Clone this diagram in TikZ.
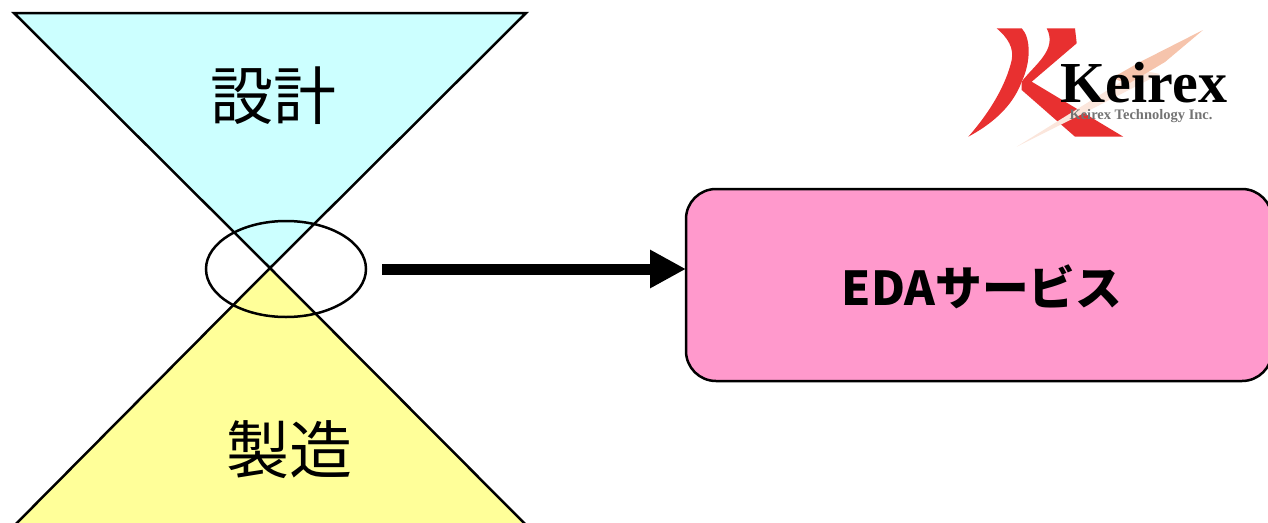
\documentclass[tikz,border=0pt]{standalone}
\usepackage{fontspec}
\usepackage{tikz}
\usetikzlibrary{calc,arrows.meta,shapes.geometric}
\newfontfamily\cjk{Noto Sans CJK JP}
\newfontfamily\logoserif{Liberation Serif}
\definecolor{designcyan}{HTML}{CCFFFF}
\definecolor{makeyellow}{HTML}{FFFF99}
\definecolor{edapink}{HTML}{FF99CC}
\definecolor{logored}{HTML}{E83030}
\definecolor{logopeach}{HTML}{F6C4AC}
\definecolor{logopale}{HTML}{FBE6DC}

\begin{document}
\begin{tikzpicture}[x=1pt,y=-1pt]
 \tikzstyle{arrow} = [-{Triangle[length=36pt,width=36pt]},line width=11pt];
 \tikzstyle{edges} = [draw=black,line width=2.5pt,line join=miter];
 \tikzstyle{bigtext} = [font=\cjk\fontsize{63}{63}\selectfont,inner sep=0pt];
 \tikzstyle{servicebox} = [edges,fill=edapink,rounded corners=30pt,inner sep=0pt,outer sep=0pt,
                           minimum width=586pt,minimum height=192pt];

 \clip (0,0) rectangle (1268,522);

 %% triangles
 \coordinate (apex) at (270,268);
 \draw[edges,fill=designcyan] (14,13) -- (526,13) -- (apex) -- cycle;
 \draw[edges,fill=makeyellow] (apex) -- (0,540) -- (541,540) -- cycle;
 \node[bigtext,name=design] at (273,96) {設計};
 \node[bigtext,name=make] at (289,450) {製造};

 %% circled junction
 \node[ellipse,draw=black,line width=2.5pt,inner sep=0pt,minimum width=160pt,minimum height=96pt,name=junction] at (286,269) {};

 %% service box
 \node[servicebox,name=service] at (979,285) {};
 \node[font=\cjk\bfseries\fontsize{46.7}{47}\selectfont,inner sep=0pt,name=servicetext] at (982,287) {EDAサービス};

 \coordinate (arrowfrom) at ($(junction.east)+(15,0)$);
 \draw[arrow] (arrowfrom) -- (arrowfrom -| service.west);

 %% logo
 \fill[logored] (996.7,28.3) -- (1021.7,28.3) .. controls (1031,38) and (1031,62) .. (1021.7,81.7)
   .. controls (1012,108) and (990,125) .. (968.3,136.7)
   .. controls (990,112) and (1006,85) .. (1011.7,60) .. controls (1014,48) and (1008,38) .. (996.7,28.3) -- cycle;
 \fill[logored] (1046.7,28.3) -- (1075,28.3) -- (1076.7,43.3) -- (1031.7,81.7) -- (1123.3,136.7) -- (1075,136.7)
   -- (1021.7,90) -- (1021.7,81.7) .. controls (1034,65) and (1058,50) .. (1046.7,28.3) -- cycle;
 \fill[logopale] (1016.7,146.7) -- (1140,70) -- (1160,74) -- (1090,110) -- cycle;
 \fill[logopeach] (1203,30) -- (1140,62) -- (1112,78) -- (1128,84) -- (1165,62) -- cycle;
 \node[font=\logoserif\bfseries\fontsize{58}{58}\selectfont,inner sep=0pt,name=logoname] at (1144,83) {Keirex};
 \node[font=\logoserif\bfseries\fontsize{14.5}{15}\selectfont,text=black!55,inner sep=0pt,name=logosub] at (1141,116) {Keirex Technology Inc.};
\end{tikzpicture}
\end{document}
